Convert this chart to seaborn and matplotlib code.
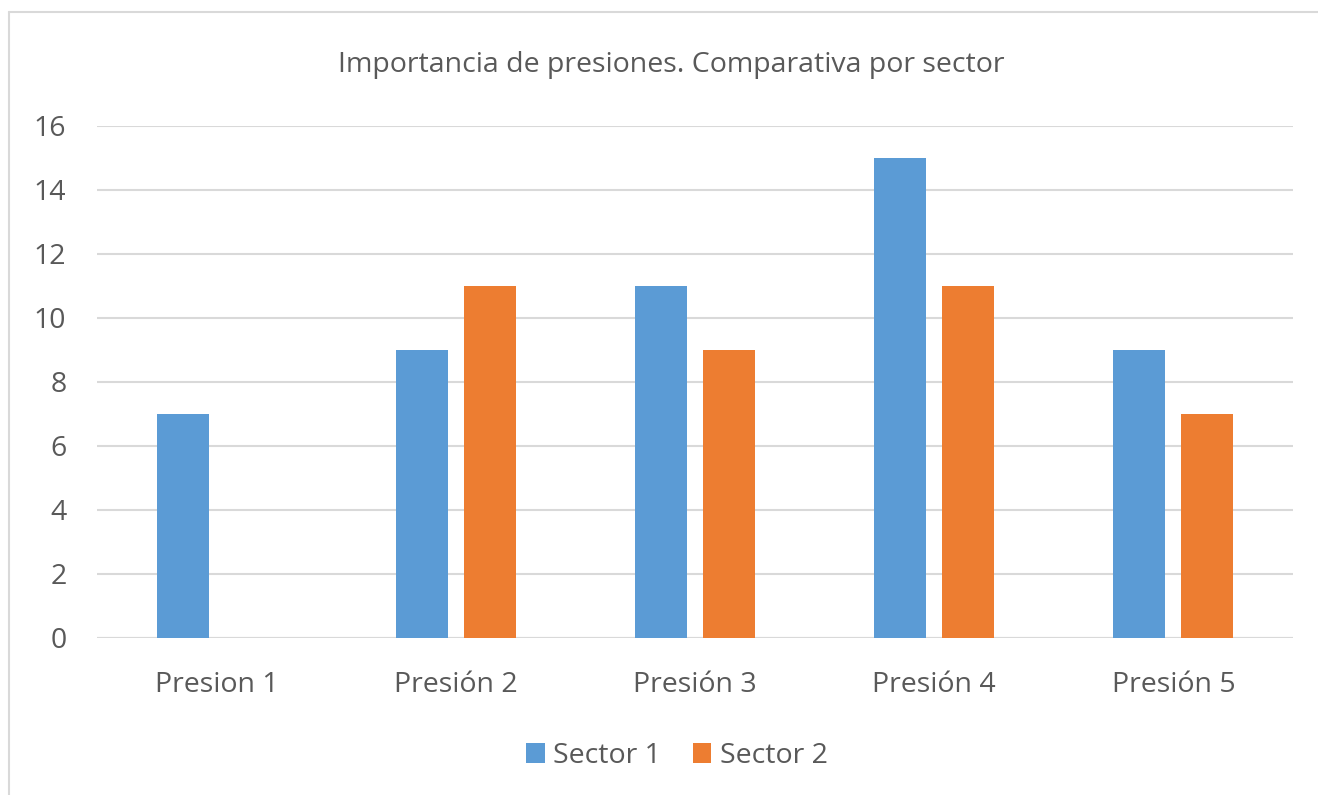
import pandas as pd
import matplotlib.pyplot as plt
import seaborn as sns
from matplotlib.patches import Patch
from matplotlib.lines import Line2D

categories = ["Presion 1", "Presión 2", "Presión 3", "Presión 4", "Presión 5"]
sector_1 = [7, 9, 11, 15, 9]
sector_2 = [0, 11, 9, 11, 7]
series = ["Sector 1", "Sector 2"]
colors = ["#5B9BD5", "#ED7D31"]

df = pd.DataFrame({
    "presion": categories * 2,
    "valor": sector_1 + sector_2,
    "sector": [series[0]] * len(categories) + [series[1]] * len(categories),
})

sns.set_style("white")
plt.rcParams["font.family"] = ["Open Sans", "DejaVu Sans"]
text_color = "#595959"
grid_color = "#D9D9D9"

W, H = 1318, 795
fig = plt.figure(figsize=(W / 100, H / 100), dpi=100)

# outer chart frame: only left and top edges are visible
frame_x, frame_y = 9 / W, 1 - 12 / H
fig.add_artist(Line2D([frame_x, frame_x], [0, frame_y], transform=fig.transFigure,
                      color=grid_color, linewidth=1.5))
fig.add_artist(Line2D([frame_x, 1], [frame_y, frame_y], transform=fig.transFigure,
                      color=grid_color, linewidth=1.5))

ax = fig.add_axes([97 / W, (H - 638) / H, (1293 - 97) / W, (638 - 126) / H])
sns.barplot(data=df, x="presion", y="valor", hue="sector", palette=colors,
            width=0.569, gap=0.235, ax=ax, legend=False, saturation=1, linewidth=0)

ax.set_ylim(0, 16)
ax.set_yticks(range(0, 17, 2))
ax.set_xlim(-0.5, 4.5)
ax.yaxis.grid(True, color=grid_color, linewidth=1.5)
ax.set_axisbelow(True)
for s in ax.spines.values():
    s.set_visible(False)
ax.axhline(0, color=grid_color, linewidth=1.5, zorder=0)
ax.set_xlabel("")
ax.set_ylabel("")
ax.tick_params(axis="both", length=0, labelsize=20.5, colors=text_color)
ax.tick_params(axis="x", pad=24)
ax.tick_params(axis="y", pad=22)

fig.text(671 / W, 1 - 65 / H, "Importancia de presiones. Comparativa por sector",
         ha="center", va="center", fontsize=20.5, color=text_color)

handles = [Patch(facecolor=c, edgecolor="none") for c in colors]
fig.legend(handles, series, loc="center", bbox_to_anchor=(677 / W, 1 - 756 / H), ncol=2,
           frameon=False, fontsize=20.5, labelcolor=text_color, handlelength=0.65,
           handleheight=0.65, handletextpad=0.3, columnspacing=1.1)

fig.savefig("out.png", dpi=100)
